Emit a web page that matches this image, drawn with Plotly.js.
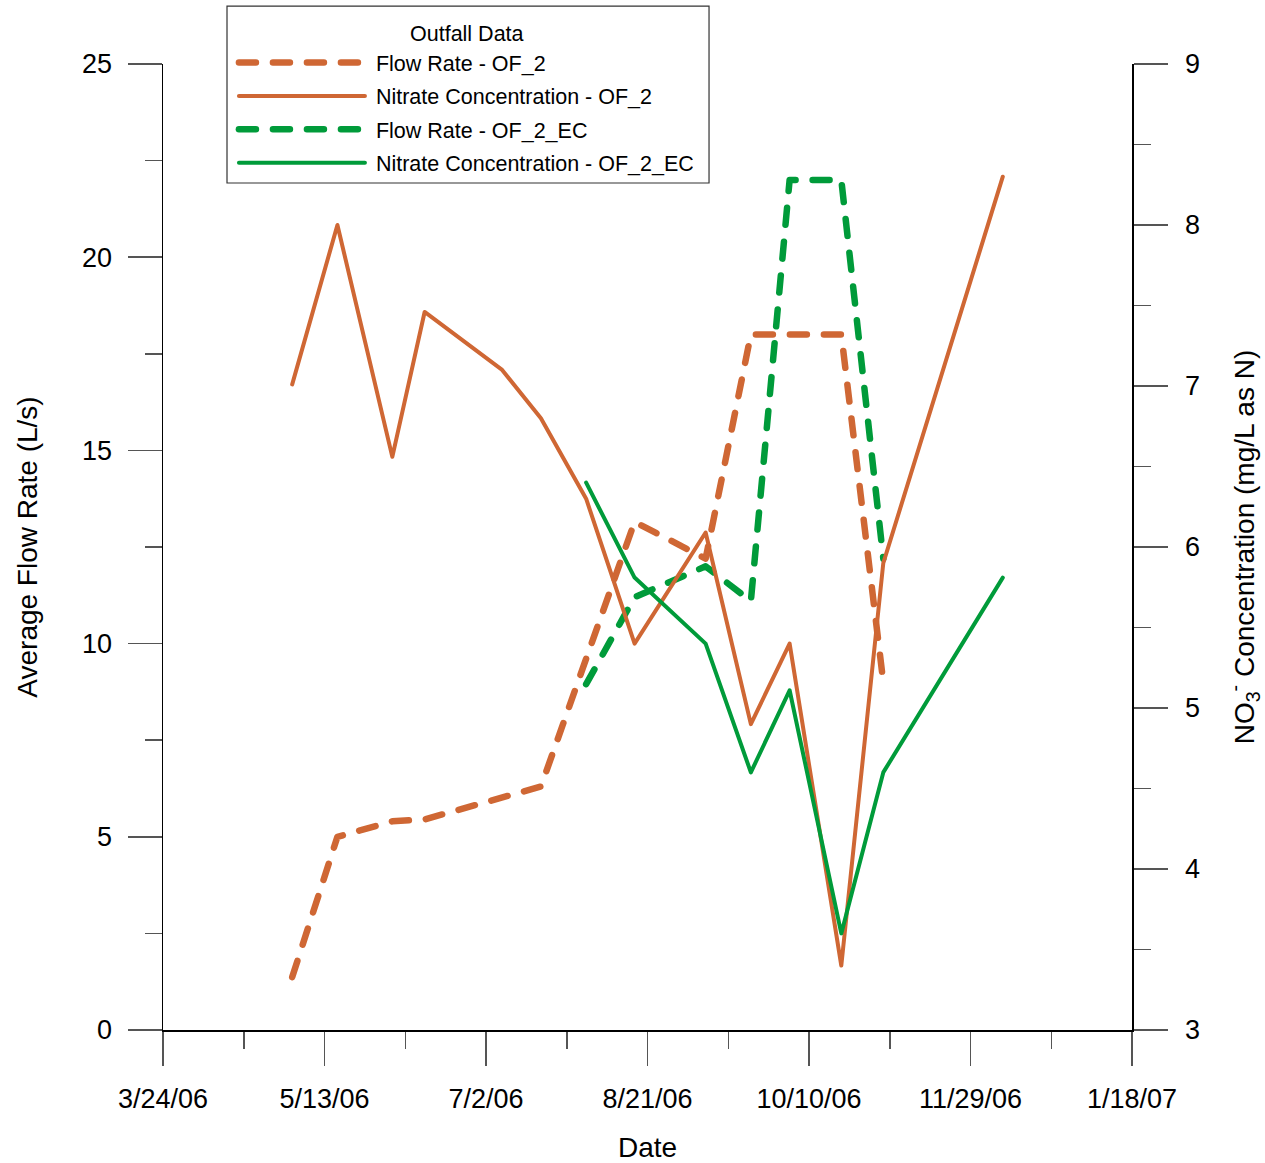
<!DOCTYPE html>
<html>
<head>
<meta charset="utf-8">
<script src="https://cdn.plot.ly/plotly-3.0.1.min.js"></script>
<style>
  html, body { margin: 0; padding: 0; background: #fff; }
  #chart { width: 1265px; height: 1163px; }
</style>
</head>
<body>
<div id="chart"></div>
<script>
// Sampling dates and measurements for the two outfalls
const flowDatesOF2 = ['2006-05-03', '2006-05-17', '2006-06-03', '2006-06-13', '2006-07-19',
                      '2006-08-17', '2006-09-08', '2006-09-22', '2006-10-20', '2006-11-02'];
const flowOF2 = [1.37, 5.0, 5.4, 5.45, 6.3, 13.15, 12.2, 18.0, 18.0, 9.0];

const nitrateDatesOF2 = ['2006-05-03', '2006-05-17', '2006-06-03', '2006-06-13', '2006-07-07',
                         '2006-07-19', '2006-08-02', '2006-08-17', '2006-09-08', '2006-09-22',
                         '2006-10-04', '2006-10-20', '2006-11-02', '2006-12-09'];
const nitrateOF2 = [7.01, 8.0, 6.56, 7.46, 7.10, 6.80, 6.30, 5.40, 6.09, 4.90, 5.40, 3.40, 5.90, 8.30];

const flowDatesEC = ['2006-08-02', '2006-08-17', '2006-09-08', '2006-09-22', '2006-10-04',
                     '2006-10-20', '2006-11-02'];
const flowEC = [8.95, 11.2, 12.0, 11.1, 22.0, 22.0, 12.2];

const nitrateDatesEC = ['2006-08-02', '2006-08-17', '2006-09-08', '2006-09-22', '2006-10-04',
                        '2006-10-20', '2006-11-02', '2006-12-09'];
const nitrateEC = [6.40, 5.81, 5.40, 4.60, 5.11, 3.60, 4.60, 5.81];

const seriesNames = ['Flow Rate - OF_2', 'Nitrate Concentration - OF_2',
                     'Flow Rate - OF_2_EC', 'Nitrate Concentration - OF_2_EC'];
const legendHeading = 'Outfall Data';

const ORANGE = '#CF6734';
const GREEN = '#009B3A';
const DASH = '17px,17px';
const DAY = 86400000;

const traces = [
  { x: flowDatesOF2, y: flowOF2, name: seriesNames[0], yaxis: 'y', legendgroup: 'a',
    mode: 'lines', line: { color: ORANGE, width: 6.5, dash: DASH } },
  { x: nitrateDatesOF2, y: nitrateOF2, name: seriesNames[1], yaxis: 'y2', legendgroup: 'b',
    mode: 'lines', line: { color: ORANGE, width: 4 } },
  { x: flowDatesEC, y: flowEC, name: seriesNames[2], yaxis: 'y', legendgroup: 'c',
    mode: 'lines', line: { color: GREEN, width: 6.5, dash: DASH } },
  { x: nitrateDatesEC, y: nitrateEC, name: seriesNames[3], yaxis: 'y2', legendgroup: 'd',
    mode: 'lines', line: { color: GREEN, width: 4 } }
];

const tickStyle = {
  ticks: 'outside', ticklen: 34, tickwidth: 1.5, tickcolor: '#555',
  showline: true, linecolor: '#000', linewidth: 1.5,
  showgrid: false, zeroline: false, automargin: false,
  tickfont: { size: 27, color: '#000' }
};

const layout = {
  width: 1265, height: 1163,
  margin: { l: 163, r: 133, t: 64, b: 133, autoexpand: false },
  paper_bgcolor: '#fff', plot_bgcolor: '#fff',
  font: { family: 'Liberation Sans, Arial, sans-serif', color: '#000' },
  showlegend: true,
  xaxis: Object.assign({}, tickStyle, {
    type: 'date',
    range: ['2006-03-24', '2007-01-18'],
    tick0: '2006-03-24', dtick: 50 * DAY,
    tickformat: '%-m/%-d/%y',
    ticklabelstandoff: 10,
    minor: { tick0: '2006-03-24', dtick: 25 * DAY, ticks: 'outside', ticklen: 17,
             tickwidth: 1.5, tickcolor: '#555', showgrid: false },
    title: { text: 'Date', font: { size: 28 }, standoff: 25 }
  }),
  yaxis: Object.assign({}, tickStyle, {
    range: [0, 25], tick0: 0, dtick: 5,
    ticklabelstandoff: 10,
    minor: { dtick: 2.5, ticks: 'outside', ticklen: 17, tickwidth: 1.5,
             tickcolor: '#555', showgrid: false },
    title: { text: 'Average Flow Rate (L/s)', font: { size: 28 }, standoff: 36 }
  }),
  yaxis2: Object.assign({}, tickStyle, {
    overlaying: 'y', side: 'right', anchor: 'x',
    range: [3, 9], tick0: 3, dtick: 1,
    ticklabelstandoff: 12,
    minor: { dtick: 0.5, ticks: 'outside', ticklen: 17, tickwidth: 1.5,
             tickcolor: '#555', showgrid: false },
    title: { text: 'NO<sub>3</sub><sup>-</sup> Concentration (mg/L as N)',
             font: { size: 28 }, standoff: 35 }
  }),
  legend: {
    x: 0.0732, y: 1.0228, xanchor: 'left', yanchor: 'top',
    bgcolor: 'rgba(0,0,0,0)', borderwidth: 0,
    font: { size: 21.5, color: '#000' },
    itemwidth: 126, traceorder: 'grouped', tracegroupgap: 2.5
  },
  // Legend frame and heading
  shapes: [{
    type: 'rect', xref: 'paper', yref: 'paper', layer: 'above',
    x0: 0.06605, x1: 0.5635, y0: 0.8768, y1: 1.0600,
    line: { color: '#333', width: 1.2 }, fillcolor: '#fff'
  }],
  annotations: [{
    text: legendHeading, xref: 'paper', yref: 'paper',
    x: 0.3137, y: 1.031, xanchor: 'center', yanchor: 'middle',
    showarrow: false, font: { size: 21.5, color: '#000' }
  }]
};

Plotly.newPlot('chart', traces, layout, { staticPlot: true }).then(function (gd) {
  // Rounded line ends and joins for the drawn series and legend samples
  gd.querySelectorAll('.scatterlayer .js-line, .legendlines path').forEach(function (p) {
    p.style.strokeLinecap = 'round';
    p.style.strokeLinejoin = 'round';
  });
  // A little more room between each legend sample and its label
  gd.querySelectorAll('.legend .legendtext').forEach(function (t) {
    const x = parseFloat(t.getAttribute('x')) || 0;
    t.setAttribute('x', x + 6);
  });
});
</script>
</body>
</html>
